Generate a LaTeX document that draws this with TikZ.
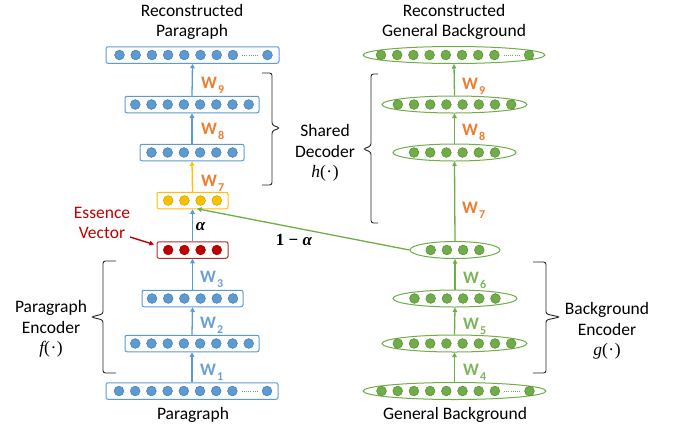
\documentclass[tikz,border=0pt]{standalone}
\usepackage[no-math]{fontspec}
\setmainfont{Carlito}
\newfontfamily\mfont{Liberation Serif}
\usetikzlibrary{arrows.meta,shapes.geometric}
\definecolor{cblue}{HTML}{5B9BD5}
\definecolor{cblueD}{HTML}{41719C}
\definecolor{cyel}{HTML}{FFC000}
\definecolor{cyelD}{HTML}{BF9000}
\definecolor{cred}{HTML}{C00000}
\definecolor{credB}{HTML}{A5352F}
\definecolor{cgreen}{HTML}{70AD47}
\definecolor{cgreenD}{HTML}{507E32}
\definecolor{corange}{HTML}{ED7D31}
\definecolor{cwblue}{HTML}{6A9FD8}
\definecolor{cwgreen}{HTML}{7CB55A}
\tikzset{
  dotc/.style={circle, line width=0.4pt, minimum size=9.8pt, inner sep=0pt},
  bcirc/.style={dotc, fill=cblue, draw=cblueD},
  ycirc/.style={dotc, fill=cyel, draw=cyelD},
  rcirc/.style={dotc, fill=cred, draw=cred!70!black},
  gcirc/.style={dotc, fill=cgreen, draw=cgreenD},
  boxc/.style={rectangle, line width=1pt, rounded corners=2pt, fill=white, minimum height=16.5pt, inner sep=0pt},
  brect/.style={boxc, draw=cblue},
  yrect/.style={boxc, draw=cyel},
  rrect/.style={boxc, draw=credB},
  gell/.style={ellipse, draw=cgreen, line width=1pt, fill=white, minimum height=17pt, inner sep=0pt},
  arr/.style={line width=1.3pt, -{Triangle[length=4.5pt,width=4.5pt]}},
  barrow/.style={arr, draw=cblue},
  yarrow/.style={arr, draw=cyel},
  garrow/.style={arr, draw=cgreen},
  rarrow/.style={arr, draw=cred},
  wlab/.style={font=\fontsize{17.5}{17.5}\selectfont\bfseries, anchor=base west, inner sep=0pt},
  lbl/.style={font=\fontsize{17.5}{20.5}\selectfont, align=center, inner sep=0pt},
  mlab/.style={font=\fontsize{17}{17}\selectfont\mfont\bfseries, inner sep=0pt},
  brc/.style={draw=black!85, line width=0.9pt, rounded corners=2.5pt},
  dline/.style={line width=0.9pt, dash pattern=on 1pt off 1.2pt, shorten >=4pt, shorten <=4pt}
}
% name, cx, cy, n, width, container style, circle style
\newcommand\mklayer[7]{%
  \node[#6, minimum width=#5pt] (#1) at (#2,#3) {};
  \foreach \k in {1,...,#4} {
    \node[#7] (#1c\k) at ({#2+(\k-(#4+1)/2)*16.2},#3) {};
  }%
}
% name, cx, cy, width, container style, circle style, dot colour
\newcommand\mkwide[7]{%
  \node[#5, minimum width=#4pt] (#1) at (#2,#3) {};
  \foreach \k in {1,...,8} {
    \node[#6] (#1c\k) at ({#2-73+(\k-1)*16.2},#3) {};
  }
  \node[#6] (#1c9) at ({#2+75},#3) {};
  \draw[dline, draw=#7] (#1c8.east) -- (#1c9.west);
}
\newcommand\Wl[1]{W\hspace{1pt}\raisebox{-5pt}{\fontsize{12}{12}\selectfont #1}}
\newcommand\fn[1]{{\mfont\itshape #1}{\mfont(\kern0.5pt·\kern0.5pt)}}
\begin{document}
\begin{tikzpicture}[x=1pt,y=-1pt]
\useasboundingbox (0,0) rectangle (675,432);
% ---------- left column ----------
\mkwide{Lout}{192.5}{55}{173}{brect}{bcirc}{cblue}
\mklayer{L9}{192}{104.5}{8}{134}{brect}{bcirc}
\mklayer{L8}{192}{152.5}{6}{104}{brect}{bcirc}
\mklayer{Ly}{192.5}{200.5}{4}{71}{yrect}{ycirc}
\mklayer{Lr}{192.5}{250}{4}{71}{rrect}{rcirc}
\mklayer{L3}{192.5}{298.5}{6}{101}{brect}{bcirc}
\mklayer{L2}{192}{343.5}{8}{134}{brect}{bcirc}
\mkwide{Lin}{192}{391}{172}{brect}{bcirc}{cblue}
\draw[barrow] (L9.north) -- (Lout.south);
\draw[barrow] (L8.north) -- (L9.south);
\draw[yarrow] (Ly.north) -- (L8.south);
\draw[barrow] (Lr.north) -- (Ly.south);
\draw[barrow] (L3.north) -- (Lr.south);
\draw[barrow] (L2.north) -- (L3.south);
\draw[barrow] (Lin.north) -- (L2.south);
% ---------- right column ----------
\mkwide{Rout}{454}{55}{182}{gell}{gcirc}{cgreen}
\mklayer{R9}{454.5}{104.5}{8}{145}{gell}{gcirc}
\mklayer{R8}{454.5}{152.5}{6}{123}{gell}{gcirc}
\mklayer{Rm}{455}{250}{4}{90}{gell}{gcirc}
\mklayer{R6}{455}{298.5}{6}{124}{gell}{gcirc}
\mklayer{R5}{454.5}{343.5}{8}{145}{gell}{gcirc}
\mkwide{Rin}{454.5}{391}{183}{gell}{gcirc}{cgreen}
\draw[garrow] (R9.north) -- (Rout.south);
\draw[garrow] (R8.north) -- (R9.south);
\draw[garrow] (Rm.north) -- (R8.south);
\draw[garrow] (R6.north) -- (Rm.south);
\draw[garrow] (R5.north) -- (R6.south);
\draw[garrow] (Rin.north) -- (R5.south);
% ---------- cross connection ----------
\coordinate (gtip) at (197,208.75);
\draw[garrow] (Rm.west) -- (gtip);
\node[mlab] (oma) at (294,240) {1 − \itshape α};
\node[mlab] (alab) at (200.5,227) {\itshape α};
% ---------- weight labels ----------
\node[wlab, text=corange] (w9) at (201,88) {\Wl{9}};
\node[wlab, text=corange] (w8) at (201,134) {\Wl{8}};
\node[wlab, text=corange] (w7) at (201,186) {\Wl{7}};
\node[wlab, text=cwblue] (w3) at (200,282) {\Wl{3}};
\node[wlab, text=cwblue] (w2) at (200,328) {\Wl{2}};
\node[wlab, text=cwblue] (w1) at (200,375) {\Wl{1}};
\node[wlab, text=corange] (rw9) at (462,89) {\Wl{9}};
\node[wlab, text=corange] (rw8) at (462,135) {\Wl{8}};
\node[wlab, text=corange] (rw7) at (462,213) {\Wl{7}};
\node[wlab, text=cwgreen] (w6) at (463,283) {\Wl{6}};
\node[wlab, text=cwgreen] (w5) at (463,329) {\Wl{5}};
\node[wlab, text=cwgreen] (w4) at (463,375) {\Wl{4}};
% ---------- texts ----------
\node[lbl] (tRP) at (192,22) {Reconstructed\\Paragraph};
\node[lbl] (tRG) at (454,22) {Reconstructed\\General Background};
\node[lbl] (tP) at (193,415) {Paragraph};
\node[lbl] (tG) at (455,415) {General Background};
\node[lbl] (tSD) at (325,153) {Shared\\Decoder\\\fn{h}};
\node[lbl] (tPE) at (51,329) {Paragraph\\Encoder\\\fn{f}};
\node[lbl] (tBE) at (607,331) {Background\\Encoder\\\fn{g}};
\node[lbl, text=cred] (ess) at (102,223) {Essence\\Vector};
\coordinate (essA) at (130,237);
\coordinate (essT) at (154,244.5);
\draw[rarrow, line width=1.4pt] (essA) -- (essT);
% ---------- braces ----------
\draw[brc] (262,73) -- (272,73) -- (272,125) -- (280,128) -- (272,131) -- (272,185) -- (262,185);
\draw[brc] (378,74) -- (371,74) -- (371,146) -- (363,149) -- (371,152) -- (371,223) -- (378,223);
\draw[brc] (116,261) -- (103,261) -- (103,314) -- (91,317) -- (103,320) -- (103,373) -- (116,373);
\draw[brc] (533,262) -- (546,262) -- (546,314) -- (560,317) -- (546,320) -- (546,373) -- (533,373);
\end{tikzpicture}
\end{document}
